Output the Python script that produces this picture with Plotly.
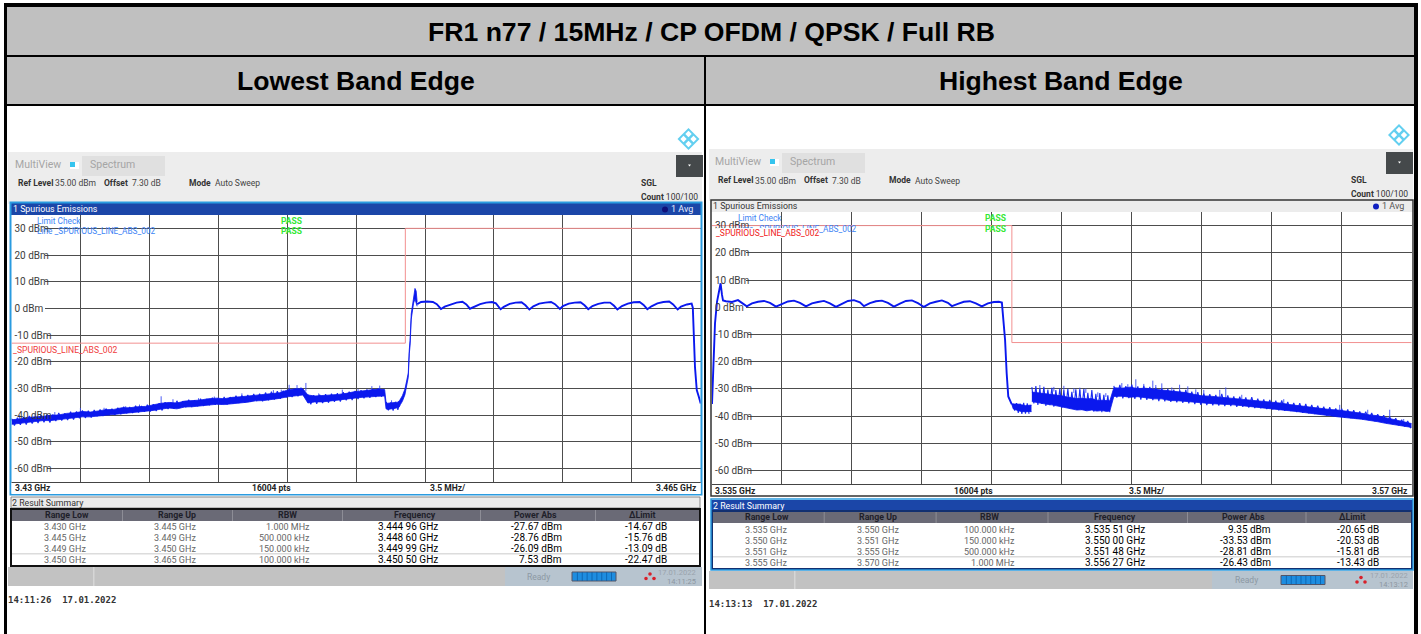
import plotly.graph_objects as go

W, H = 1421, 634
SANS = "Liberation Sans"
UI = "Roboto"
MONO = "DejaVu Sans Mono"

TITLE = "FR1 n77 / 15MHz / CP OFDM / QPSK / Full RB"
LEFT_HEAD = "Lowest Band Edge"
RIGHT_HEAD = "Highest Band Edge"
DB_TICKS = [30, 20, 10, 0, -10, -20, -30, -40, -50, -60]

# ---------- left trace ----------
L_freq_noise = [3.4300,3.4304,3.4308,3.4312,3.4316,3.4320,3.4324,3.4328,3.4332,3.4336,3.4340,3.4344,3.4348,3.4352,3.4356,3.4360,3.4364,3.4368,3.4372,3.4376,3.4380,3.4384,3.4388,3.4392,3.4396,3.4400,3.4404,3.4408,3.4412,3.4416,3.4420,3.4424,3.4428,3.4432,3.4436,3.4440,3.4444,3.4448,
    3.44505,3.4454,3.4458,3.4462,3.4466,3.4470,3.4474,3.4478,3.4482,3.4486,3.44895,
    3.44902,3.4491,3.4493,3.4495,3.4496,3.4497,3.44975,3.44985,3.44998,3.45008,3.45015,3.4502,3.45024,3.4503,3.45035,3.45042,3.45049,3.45055,3.4506]
L_hi_noise = [-41.5,-41.2,-40.6,-40.5,-40.2,-39.8,-39.7,-39.1,-38.9,-38.4,-38.6,-38.2,-37.7,-37.6,-37.0,-37.0,-36.6,-36.5,-35.9,-35.3,-35.0,-35.2,-34.5,-34.3,-34.1,-33.6,-33.4,-33.6,-33.1,-32.9,-32.6,-32.2,-32.0,-31.5,-31.4,-30.4,-29.9,-29.9,
    -32.2,-32.6,-32.4,-32.3,-32.0,-31.6,-31.0,-30.7,-30.4,-30.0,-30.2,
    -34.9,-35.3,-35.2,-35.0,-34.9,-34.4,-33.8,-32.5,-30.0,-27.0,-24.0,-15.5,-12.0,-2.0,0.5,4.5,7.5,6.5,2.5]
L_lo_noise = [-43.6,-43.3,-43.0,-42.7,-42.2,-42.2,-41.8,-41.5,-41.0,-40.8,-40.8,-40.5,-40.1,-40.0,-39.5,-39.3,-39.1,-38.8,-38.4,-37.9,-37.5,-37.8,-37.1,-37.0,-36.7,-36.4,-36.1,-36.2,-35.8,-35.6,-35.3,-34.8,-34.7,-34.4,-33.9,-33.3,-32.9,-32.6,
    -35.6,-35.2,-35.2,-34.8,-34.5,-34.2,-33.8,-33.5,-33.2,-33.1,-33.0,
    -37.8,-38.0,-37.9,-37.6,-37.3,-37.0,-36.2,-35.0,-32.5,-29.0,-26.0,-17.0,-14.0,-4.0,-0.5,2.0,3.5,1.5,0.8]
L_freq_flat = [3.4506,3.4508,3.4511,3.4514,3.4516,3.45181,3.4520,3.4523,3.4526,3.4529,3.4531,3.45328,3.4535,3.4538,3.4541,3.4544,3.4546,3.45484,3.4550,3.4553,3.4556,3.4559,3.4561,3.45630,3.4565,3.4568,3.4571,3.4574,3.4576,3.45785,3.4580,3.4583,3.4586,3.4589,3.4591,3.45929,3.4595,3.4598,3.4601,3.4604,3.4606,3.46077,3.4610,3.4613,3.4616,3.4619,3.4621,3.46229,3.4625,3.4628,3.4631,3.4634,3.4636,3.46383,3.4640,3.4643,3.46454,3.4646,3.46471,3.4648,3.4649,3.4650]
L_level_flat = [1.6,2.4,2.6,2.4,1.6,-0.2,0.7,1.5,2.2,2.5,1.5,-0.1,0.7,1.6,2.2,2.4,1.9,-0.3,0.6,1.7,2.2,2.3,1.2,-0.4,0.8,1.8,2.2,2.4,1.6,-0.2,0.9,1.8,2.2,2.3,1.2,-0.3,0.9,1.7,2.2,2.2,1.0,-0.4,0.9,1.8,2.3,2.4,1.3,-0.3,0.8,1.9,2.4,2.6,1.5,-0.4,0.7,1.5,1.8,0.3,-22.0,-30.6,-33.0,-35.6]
L_spike_freq = [3.4304,3.4312,3.4322,3.4335,3.4347,3.4358,3.4365,3.4376,3.4382,3.4395,3.4403,3.4411,3.4417,3.4429,3.4433,3.4437,3.4441,3.4445,3.44495,3.4456,3.4468,3.4476,3.4483,3.4487,3.4493]
L_spike_top = [-39.9,-39.5,-38.8,-37.3,-37.2,-36.6,-36.0,-32.9,-34.0,-33.6,-33.0,-33.4,-31.8,-32.0,-30.6,-30.4,-28.6,-28.7,-27.9,-31.8,-30.4,-30.2,-29.1,-28.9,-34.4]
L_spike_base = [-42.0,-41.5,-41.0,-39.5,-39.0,-38.4,-38.0,-36.4,-36.2,-35.5,-34.9,-35.0,-34.0,-33.5,-33.0,-32.4,-32.0,-31.5,-31.0,-33.5,-32.4,-31.6,-31.0,-31.0,-36.0]
L_limit_freq = [3.43, 3.45, 3.45, 3.465]
L_limit_db = [-13, -13, 30, 30]

# noise fuzz: (start GHz, step GHz, dBm readings)
L_fuzz_a = [-41.2,-43.9,-40.9,-43.6,-40.7,-43.5,-40.3,-43.1,-40.6,-42.9,
    -39.9,-42.6,-39.7,-42.7,-39.7,-42.2,-39.1,-42.0,-39.3,-41.8,
    -38.7,-41.6,-38.6,-41.1,-38.2,-41.0,-38.3,-40.9,-38.0,-40.4,
    -37.8,-40.3,-37.5,-40.0,-37.6,-39.9,-37.2,-39.6,-36.8,-39.3,
    -36.9,-39.2,-36.4,-39.0,-36.5,-38.7,-36.1,-38.6,-35.9,-38.4,
    -35.5,-38.2,-35.1,-37.7,-35.2,-37.6,-34.6,-37.3,-34.7,-37.0,
    -34.2,-36.9,-34.4,-36.6,-33.8,-36.5,-33.9,-36.3,-33.4,-36.1,
    -33.5,-35.9,-33.1,-36.0,-33.2,-35.6,-32.7,-35.4,-32.6,-35.2,
    -32.4,-35.0,-32.0,-34.7,-31.9,-34.8,-31.5,-34.4,-31.2,-34.1,
    -31.0,-33.8,-30.8,-33.4,-30.1,-33.2,-30.3,-32.9,-29.7,-32.8]
L_fuzz_b = [-32.2,-35.9,-32.5,-35.7,-32.3,-35.4,-32.1,-35.3,-31.9,-35.0,-31.7,-34.9,-31.4,-34.4,-31.2,-34.3,-30.9,-33.9,-30.6,-33.7,-30.3,-33.5,-30.2,-33.2,-29.9,-33.1]
L_fuzz_c = [-35.0,-38.2,-35.2,-38.3,-35.0,-38.0,-34.8]

# ---------- right trace ----------
R_freq_noise = [3.5510,3.55125,3.5515,3.55175,3.5520,3.55225,3.5525,3.55275,3.5530,3.55325,3.5535,3.55375,3.5540,3.55425,3.5545,3.55475,3.5549,
    3.5551,3.5555,3.5559,3.5563,3.5567,3.5571,3.5575,3.5579,3.5583,3.5587,3.5591,3.5595,3.5599,3.5603,3.5607,3.5611,3.5615,3.5619,3.5623,3.5627,3.5631,3.5635,3.5639,3.5643,3.5647,3.5651,3.5655,3.5659,3.5663,3.5667,3.5671,3.5675,3.5679,3.5683,3.5687,3.5691,3.5695,3.5699,3.5700]
R_hi_noise = [-31.0,-31.2,-31.5,-31.8,-32.0,-32.2,-32.4,-32.8,-33.0,-33.4,-33.3,-33.5,-33.4,-34.0,-34.0,-34.0,-34.2,
    -29.4,-29.6,-29.2,-29.7,-29.6,-29.9,-30.2,-30.6,-31.0,-31.2,-31.8,-32.4,-32.5,-32.8,-33.0,-33.4,-33.6,-33.9,-34.3,-34.4,-34.7,-35.1,-35.6,-36.0,-36.4,-36.8,-37.0,-37.4,-37.6,-38.0,-38.3,-38.8,-39.4,-39.7,-40.4,-41.0,-41.7,-42.4,-42.6]
R_lo_noise = [-34.9,-35.3,-35.5,-35.9,-36.1,-36.5,-36.8,-37.1,-37.7,-38.0,-37.9,-38.3,-38.0,-38.4,-38.2,-38.5,-38.4,
    -33.0,-32.9,-33.3,-33.1,-33.6,-33.9,-33.9,-34.5,-34.6,-34.9,-35.2,-35.5,-35.6,-35.8,-35.9,-36.1,-36.4,-36.7,-37.0,-37.2,-37.5,-37.9,-38.2,-38.6,-39.0,-39.3,-39.8,-40.1,-40.5,-40.9,-41.1,-41.4,-41.8,-42.3,-42.9,-43.4,-43.9,-44.3,-44.4]
R_freq_flat = [3.5350,3.53507,3.53515,3.53525,3.53535,3.53543,3.5355,3.53555,3.53570,3.5360,3.5363,3.5365,3.53674,3.5370,3.5373,3.5376,3.5379,3.5382,3.5385,3.5388,3.5391,3.5394,3.5397,3.5400,3.5403,3.5406,3.5409,3.5412,3.5415,3.5418,3.5421,3.5424,3.5426,3.5429,3.5432,3.5435,3.5438,3.5441,3.5444,3.5447,3.5450,3.5453,3.5456,3.5459,3.5462,3.5465,3.5468,3.5470,3.5473,3.5476,3.5479,3.5482,3.5485,3.5488,3.5491,3.54935,3.5495,3.54966,3.54974,3.54982,3.54999]
R_level_flat = [-35.6,-18.0,-6.0,2.0,6.0,8.8,4.5,2.5,2.2,1.9,2.6,1.5,0.3,1.4,2.0,2.3,1.6,0.2,1.3,2.1,2.4,1.6,0.3,1.4,1.9,2.3,1.4,0.1,1.2,2.3,2.6,1.8,0.4,1.5,2.2,2.4,1.6,0.2,1.3,2.3,2.5,1.5,0.1,1.4,2.0,2.5,1.6,0.4,1.2,2.0,2.2,1.4,0.3,1.4,1.9,2.0,1.7,-12.0,-24.3,-32.8,-35.6]
R_freq_floor = [3.54999,3.55007,3.5503,3.55049,3.5507,3.55094,3.55098]
R_hi_floor = [-35.6,-35.6,-35.6,-35.9,-36.2,-36.0,-36.0]
R_lo_floor = [-35.6,-37.4,-38.0,-38.4,-38.4,-38.6,-38.4]
R_spike_freq = [3.5514,3.5521,3.5526,3.5531,3.5534,3.5537,3.5543,3.5547,3.5555,3.5558,3.5562,3.5566,3.55705,3.5572,3.5575,3.5580,3.55839,3.5588,3.5592,3.5596,3.5604,3.5607,3.5615,3.5636,3.5664,3.5678,3.5689,3.5696]
R_spike_top = [-28.6,-29.3,-28.9,-29.8,-29.6,-29.9,-31.3,-31.6,-27.9,-28.3,-26.5,-28.2,-27.0,-28.6,-28.0,-29.5,-28.5,-29.1,-30.2,-30.4,-30.4,-29.5,-32.2,-33.8,-35.9,-37.7,-37.7,-41.1]
R_spike_base = [-31.0,-31.0,-31.0,-31.5,-31.5,-31.5,-33.0,-33.0,-30.0,-30.0,-30.0,-30.0,-30.5,-30.5,-30.5,-31.5,-31.5,-31.5,-32.5,-33.0,-33.5,-33.5,-34.0,-35.5,-38.0,-39.5,-40.5,-42.5]
R_limit_freq = [3.535, 3.55, 3.55, 3.57]
R_limit_db = [30, 30, -13, -13]
R_fuzz_a = [-29.4,-35.4,-29.0,-35.9,-29.9,-35.6,-29.3,-36.3,-30.3,-36.0,-29.6,-36.6,-30.5,-36.2,-29.9,-37.0,-30.6,-36.8,-30.0,-37.2,-31.1,-37.0,-30.2,-37.6,-30.3,-37.8,-30.1,-38.1,-31.5,-37.8,-30.5,-38.4,-31.8,-38.0,-31.6,-38.6,-32.2,-38.2,-32.4,-38.6]
R_fuzz_b = [-28.9,-33.2,-28.6,-33.5,-29.0,-33.4,-28.5,-33.7,-29.1,-34.0,
    -28.9,-34.1,-29.3,-34.2,-29.6,-34.5,-29.8,-34.6,-30.0,-34.8,
    -30.3,-35.0,-30.6,-35.2,-30.4,-35.4,-31.0,-35.6,-31.2,-35.9,
    -31.8,-36.0,-32.0,-36.1,-32.2,-36.2,-31.9,-36.4,-32.4,-36.4,
    -32.8,-36.6,-32.9,-36.6,-33.2,-36.9,-33.1,-37.1,-33.6,-37.2,
    -33.9,-37.5,-34.1,-37.6,-34.4,-37.9,-34.3,-38.1,-34.8,-38.2,
    -35.2,-38.6,-35.3,-38.8,-35.6,-39.0,-35.9,-39.3,-36.2,-39.4,
    -36.6,-39.8,-36.8,-40.0,-37.2,-40.3,-37.3,-40.6,-37.6,-40.8,
    -37.9,-41.0,-38.3,-41.2,-38.4,-41.5,-38.9,-41.9,-39.3,-42.1,
    -39.7,-42.6,-40.3,-43.0,-40.8,-43.4,-41.4,-43.9,-41.8,-44.5]
R_fuzz_c = [-35.4,-38.0,-35.3,-38.9,-35.4,-39.2,-35.2,-39.1,-35.3,-39.2]

L_fuzz = [(3.43, 0.00015, L_fuzz_a), (3.44505, 0.00015, L_fuzz_b), (3.44902, 0.00012, L_fuzz_c)]
R_fuzz = [(3.551, 0.0001, R_fuzz_a), (3.5551, 0.00015, R_fuzz_b), (3.55005, 0.00009, R_fuzz_c)]

# ---------- result summaries ----------
TABLE_HEAD = ["Range Low", "Range Up", "RBW", "Frequency", "Power Abs", "\u0394Limit"]
L_rows = [
    ["3.430 GHz", "3.445 GHz", "1.000 MHz", "3.444 96 GHz", "-27.67 dBm", "-14.67 dB"],
    ["3.445 GHz", "3.449 GHz", "500.000 kHz", "3.448 60 GHz", "-28.76 dBm", "-15.76 dB"],
    ["3.449 GHz", "3.450 GHz", "150.000 kHz", "3.449 99 GHz", "-26.09 dBm", "-13.09 dB"],
    ["3.450 GHz", "3.465 GHz", "100.000 kHz", "3.450 50 GHz", "7.53 dBm", "-22.47 dB"],
]
R_rows = [
    ["3.535 GHz", "3.550 GHz", "100.000 kHz", "3.535 51 GHz", "9.35 dBm", "-20.65 dB"],
    ["3.550 GHz", "3.551 GHz", "150.000 kHz", "3.550 00 GHz", "-33.53 dBm", "-20.53 dB"],
    ["3.551 GHz", "3.555 GHz", "500.000 kHz", "3.551 48 GHz", "-28.81 dBm", "-15.81 dB"],
    ["3.555 GHz", "3.570 GHz", "1.000 MHz", "3.556 27 GHz", "-26.43 dBm", "-13.43 dB"],
]

shapes, notes = [], []


def px(x):
    return x / W


def py(y):
    return 1 - y / H


def rect(x0, y0, x1, y1, fill=None, line=None, lw=1, layer="below"):
    shapes.append(dict(type="rect", xref="paper", yref="paper", x0=px(x0), x1=px(x1), y0=py(y0), y1=py(y1),
                       fillcolor=fill if fill else "rgba(0,0,0,0)",
                       line=dict(color=line if line else "rgba(0,0,0,0)", width=lw if line else 0), layer=layer))


def poly(points, fill=None, line=None, lw=1):
    d = "M " + " L ".join(f"{px(a):.5f},{py(b):.5f}" for a, b in points) + " Z"
    shapes.append(dict(type="path", xref="paper", yref="paper", path=d, fillcolor=fill if fill else "rgba(0,0,0,0)",
                       line=dict(color=line if line else "rgba(0,0,0,0)", width=lw if line else 0), layer="above"))


def dot(x, y, r, fill):
    shapes.append(dict(type="circle", xref="paper", yref="paper", x0=px(x - r), x1=px(x + r), y0=py(y + r), y1=py(y - r),
                       fillcolor=fill, line=dict(width=0), layer="above"))


def text(x, y, s, size, color="#333", anchor="left", family=UI, bg=None):
    n = dict(xref="paper", yref="paper", x=px(x), y=py(y), text=s, showarrow=False, xanchor=anchor, yanchor="middle",
             font=dict(size=size, color=color, family=family), borderpad=0, borderwidth=0)
    if bg:
        n["bgcolor"] = bg
    notes.append(n)


# ---------- page frame ----------
rect(5, 5, 1416, 104, fill="#c0c0c0")
rect(4, 3, 1418, 7, fill="#000")
rect(4, 55, 1418, 57, fill="#000")
rect(4, 104, 1418, 106, fill="#000")
rect(4, 3, 7, 634, fill="#000")
rect(1414, 3, 1418, 634, fill="#000")
rect(704, 55, 706, 634, fill="#000")
text(711, 31.5, f"<b>{TITLE}</b>", 26.6, "#000", "center", SANS)
text(355.5, 81, f"<b>{LEFT_HEAD}</b>", 26.6, "#000", "center", SANS)
text(1060.5, 81, f"<b>{RIGHT_HEAD}</b>", 26.6, "#000", "center", SANS)


def logo(cx, cy):
    r = 11
    poly([(cx, cy - r), (cx + r, cy), (cx, cy + r), (cx - r, cy)], fill="#62cff0")
    s = 3.2
    for ox, oy in [(0, -5), (5, 0), (0, 5), (-5, 0)]:
        poly([(cx + ox, cy + oy - s), (cx + ox + s, cy + oy), (cx + ox, cy + oy + s), (cx + ox - s, cy + oy)], fill="#ffffff")


def panel(o):
    gl, gr = o["gl"], o["gr"]
    dy = o["dy"]
    rect(gl, 152 + dy, gr, 204 + dy, fill="#ededed")
    text(o["x"] + 15, 165 + dy, "MultiView", 10.5, "#a5a5a5")
    rect(o["x"] + 70, 162 + dy, o["x"] + 79, 169 + dy, fill="#ffffff")
    rect(o["x"] + 70, 162 + dy, o["x"] + 75, 167 + dy, fill="#35c4ee")
    rect(o["x"] + 82, 156 + dy, o["x"] + 165, 176 + dy, fill="#e0e0e0")
    text(o["x"] + 90, 165 + dy, "Spectrum", 10.5, "#a5a5a5")
    text(o["x"] + 18, 183 + dy, "<b>Ref Level</b>", 8.5, "#333")
    text(o["x"] + 55, 183.5 + dy, "35.00 dBm", 8.5, "#444")
    text(o["x"] + 104, 183 + dy, "<b>Offset</b>", 8.5, "#333")
    text(o["x"] + 132, 183.5 + dy, "7.30 dB", 8.5, "#444")
    text(o["x"] + 189, 183 + dy, "<b>Mode</b>", 8.5, "#333")
    text(o["x"] + 215, 183.5 + dy, "Auto Sweep", 8.5, "#444")
    text(o["sgl"], 183 + dy, "<b>SGL</b>", 8.5, "#333")
    text(o["sgl"], 197 + dy, "<b>Count</b> 100/100", 8.5, "#333")
    rect(o["bx"], 155 + dy, o["bx"] + 27, 177 + dy, fill="#45494b")
    poly([(o["bx"] + 12, 164.5 + dy), (o["bx"] + 15, 164.5 + dy), (o["bx"] + 13.5, 166.5 + dy)], fill="#ffffff")
    logo(o["lx"], o["ly"])


panel(dict(x=0, gl=8, gr=702, dy=0, sgl=641, bx=676, lx=688.5, ly=139))
panel(dict(x=700, gl=709, gr=1413, dy=-3, sgl=1351, bx=1386, lx=1399, ly=135))

# ---------- left graph chrome ----------
rect(11, 215, 701, 494, fill="#ffffff")
rect(11, 203, 701, 215, fill="#1b46a8")
rect(10.5, 202.5, 701.5, 494.5, line="#2a9be0", lw=2, layer="above")
text(12.5, 209.5, "1 Spurious Emissions", 8.8, "#ffffff")
dot(665, 209.5, 3, "#10107a")
text(671, 209.5, "1 Avg", 9, "#e8eeff")
rect(11.5, 482, 700.7, 494, fill="#ffffff", layer="above")
rect(11.5, 482, 700.7, 483, fill="#444", layer="above")
text(15, 488, "<b>3.43 GHz</b>", 8.5, "#222")
text(271, 488, "<b>16004 pts</b>", 8.5, "#222", "center")
text(448, 488, "<b>3.5 MHz/</b>", 8.5, "#222", "center")
text(697, 488, "<b>3.465 GHz</b>", 8.5, "#222", "right")
text(37, 220.5, "Limit Check", 8.3, "#3d84f5")
text(37, 231.5, "Line _SPURIOUS_LINE_ABS_002", 8.3, "#3d84f5")
text(281, 220.5, "<b>PASS</b>", 8.5, "#35e835")
text(281, 231.5, "<b>PASS</b>", 8.5, "#35e835")
text(12.5, 350, "_SPURIOUS_LINE_ABS_002", 8.6, "#f03c3c")

# ---------- right graph chrome ----------
rect(711, 212, 1413, 496, fill="#ffffff")
rect(711, 200, 1413, 212, fill="#ececec")
rect(711, 200, 1413, 496, line="#333333", lw=1.5, layer="above")
text(712.5, 206.5, "1 Spurious Emissions", 8.8, "#333")
dot(1376, 206.5, 3, "#1020c0")
text(1382, 206.5, "1 Avg", 9, "#555")
rect(712, 484, 1411.7, 495, fill="#ffffff", layer="above")
rect(712, 484, 1411.7, 485, fill="#444", layer="above")
text(715, 490.5, "<b>3.535 GHz</b>", 8.5, "#222")
text(973.5, 490.5, "<b>16004 pts</b>", 8.5, "#222", "center")
text(1147, 490.5, "<b>3.5 MHz/</b>", 8.5, "#222", "center")
text(1408, 490.5, "<b>3.57 GHz</b>", 8.5, "#222", "right")
text(738, 218, "Limit Check", 8.3, "#3d84f5")
text(738, 229.5, "Line _SPURIOUS_LINE_ABS_002", 8.3, "#3d84f5")
text(985, 218, "<b>PASS</b>", 8.5, "#35e835")
text(985, 229.5, "<b>PASS</b>", 8.5, "#35e835")
text(716, 232.8, "_SPURIOUS_LINE_ABS_002", 8.5, "#f02020", bg="rgba(255,255,255,0.92)")


def table(rows, o):
    y = o["y"]
    if o["blue"]:
        rect(o["l"] - 1, y[0], o["r"] + 1, y[0] + 11, fill="#1b46a8")
        text(o["l"] + 1, y[0] + 5.5, "2 Result Summary", 8.8, "#ffffff")
    else:
        rect(o["l"], y[0], o["r"], y[0] + 11, fill="#ececec", line="#888888")
        text(o["l"] + 1, y[0] + 5.5, "2 Result Summary", 8.8, "#333")
    rect(o["l"], y[1], o["r"], y[2], fill="#6a6a76")
    for d in o["div"]:
        rect(d, y[1], d + 1, y[2], fill="#8d8d96")
    for h, c in zip(TABLE_HEAD, o["hc"]):
        text(c, (y[1] + y[2]) / 2, f"<b>{h}</b>", 8.8, "#1f1f2a", "center")
    rect(o["l"], y[2], o["r"], y[3], fill="#ffffff")
    rect(o["l"], o["sep"], o["r"], o["sep"] + 1.5, fill="#dcdcdc")
    for ry, row in zip(o["rows"], rows):
        for j, (c, v) in enumerate(zip(o["rc"], row)):
            if j < 3:
                text(c, ry, v, 9, "#666", "right")
            else:
                text(c, ry - 0.5, v, 10, "#000", "right")
    rect(o["l"], y[1] - 0.5, o["r"], y[3], line="#111111" if not o["blue"] else "#123070", lw=2, layer="above")
    if o["blue"]:
        rect(o["l"] - 1, y[0] - 1, o["r"] + 1, y[3] + 1, line="#2a9be0", lw=1.5, layer="above")


table(L_rows, dict(blue=False, l=11, r=700, y=[497, 509.5, 521, 566], sep=553, div=[122, 232, 342, 480, 595],
                   hc=[67, 177, 287, 415, 535, 642], rc=[86, 195.5, 309.5, 437.6, 562, 667], rows=[526.5, 537.5, 548.5, 559.5]))
table(R_rows, dict(blue=True, l=712, r=1412, y=[500, 511.5, 523, 569], sep=556, div=[823.7, 935.6, 1047.5, 1187, 1305.5],
                   hc=[767, 878, 990, 1115, 1243, 1352], rc=[787, 898.6, 1014.6, 1144.7, 1271, 1378.5], rows=[529.5, 540.5, 551.5, 562.5]))


def toolbar(o):
    t, b = o["t"], o["b"]
    rect(o["l"], t, o["m"], b, fill="#c2c2c2")
    rect(o["d"], t, o["d"] + 1.5, b, fill="#d6d6d6")
    rect(o["m"], t, o["r"], b, fill="#b7c4cf")
    text(o["rx"], o["c"], "Ready", 8.5, "#8c98a3", "center")
    rect(o["px"], o["c"] - 4.5, o["px"] + 44, o["c"] + 4.5, fill="#1e8de0", line="#556", lw=1)
    for k in range(1, 9):
        rect(o["px"] + k * 4.9, o["c"] - 4.5, o["px"] + k * 4.9 + 0.8, o["c"] + 4.5, fill="#0b5fa8")
    q = o["qx"]
    dot(q, o["c"] - 2.5, 1.8, "#d8202a")
    dot(q - 4, o["c"] + 2, 1.8, "#d8202a")
    dot(q + 4, o["c"] + 2, 1.8, "#d8202a")
    text(o["dx"], o["c"] - 4.5, "17.01.2022", 7.5, "#9aa3ac", "right")
    text(o["dx"], o["c"] + 4.5, o["time"], 7.5, "#8c96a0", "right")


toolbar(dict(l=8, m=505, r=702, d=93, t=567, b=586, c=576.5, rx=538, px=572, qx=650, dx=696, time="14:11:25"))
toolbar(dict(l=709, m=1212, r=1413, d=794, t=571, b=589, c=580, rx=1246, px=1281, qx=1361, dx=1408, time="14:13:12"))
text(8, 599.5, "<b>14:11:26\u00a0\u00a017.01.2022</b>", 9, "#333", family=MONO)
text(709, 603.5, "<b>14:13:13\u00a0\u00a017.01.2022</b>", 9, "#333", family=MONO)

# white backing behind the dB labels, above the grid and below the trace
for xr, yr, start in [("x", "y", 3.43), ("x2", "y2", 3.535)]:
    for v in DB_TICKS:
        shapes.append(dict(type="rect", xref=xr, yref=yr, x0=start, x1=start + (0.0018 if v < 0 else 0.0017),
                           y0=v - 1.3, y1=v + 1.3, fillcolor="#ffffff", line=dict(width=0), layer="between"))

# ---------- figure ----------
fig = go.Figure()
BLUE = "#0a18ee"
FUZZ = "#1a2cf0"


def add_spectrum(suffix, limit_f, limit_d, nf, hi, lo, flat_f, flat, spike_f, spike_t, spike_b, fuzz, extra=None):
    xa, ya = "x" + suffix, "y" + suffix
    fig.add_trace(go.Scatter(x=limit_f, y=limit_d, xaxis=xa, yaxis=ya, mode="lines", line=dict(color="#f29090", width=1), hoverinfo="skip"))
    sx, sy = [], []
    for f, t, b in zip(spike_f, spike_t, spike_b):
        sx += [f, f, None]
        sy += [b, t, None]
    fig.add_trace(go.Scatter(x=sx, y=sy, xaxis=xa, yaxis=ya, mode="lines", line=dict(color="#3a4cf5", width=0.9), hoverinfo="skip"))
    for start, step, vals in fuzz:
        fig.add_trace(go.Scatter(x=[start + i * step for i in range(len(vals))], y=vals, xaxis=xa, yaxis=ya, mode="lines",
                                 line=dict(color=FUZZ, width=1.1), hoverinfo="skip"))
    core_hi = [h - 0.2 if h - l > 1.6 and h < -20 else h for h, l in zip(hi, lo)]
    core_lo = [l + 0.2 if h - l > 1.6 and h < -20 else l for h, l in zip(hi, lo)]
    fig.add_trace(go.Scatter(x=nf, y=core_lo, xaxis=xa, yaxis=ya, mode="lines", line=dict(color=BLUE, width=0.8), hoverinfo="skip"))
    fig.add_trace(go.Scatter(x=nf, y=core_hi, xaxis=xa, yaxis=ya, mode="lines", line=dict(color=BLUE, width=0.8), fill="tonexty", fillcolor=BLUE, hoverinfo="skip"))
    fig.add_trace(go.Scatter(x=flat_f, y=flat, xaxis=xa, yaxis=ya, mode="lines", line=dict(color=BLUE, width=1.9), hoverinfo="skip"))
    if extra:
        fig.add_trace(go.Scatter(x=extra[0], y=extra[2], xaxis=xa, yaxis=ya, mode="lines", line=dict(color=BLUE, width=0.8), hoverinfo="skip"))
        fig.add_trace(go.Scatter(x=extra[0], y=extra[1], xaxis=xa, yaxis=ya, mode="lines", line=dict(color=BLUE, width=0.8), fill="tonexty", fillcolor=BLUE, hoverinfo="skip"))


add_spectrum("", L_limit_freq, L_limit_db, L_freq_noise, L_hi_noise, L_lo_noise, L_freq_flat, L_level_flat,
             L_spike_freq, L_spike_top, L_spike_base, L_fuzz)
add_spectrum("2", R_limit_freq, R_limit_db, R_freq_noise, R_hi_noise, R_lo_noise, R_freq_flat, R_level_flat,
             R_spike_freq, R_spike_top, R_spike_base, R_fuzz, extra=(R_freq_floor, R_hi_floor, R_lo_floor))

grid = dict(showgrid=True, gridcolor="#4d4d4d", gridwidth=1, zeroline=False, showline=False, ticks="", fixedrange=True)
ylab = dict(tickvals=DB_TICKS, ticktext=[f"{v} dBm" for v in DB_TICKS], ticklabelposition="inside",
            tickfont=dict(family=UI, size=10, color="#3c3c3c"), range=[-65, 35])
fig.update_layout(
    width=W, height=H, autosize=False, margin=dict(l=0, r=0, t=0, b=0), showlegend=False,
    paper_bgcolor="#ffffff", plot_bgcolor="rgba(0,0,0,0)", shapes=shapes, annotations=notes,
    xaxis=dict(domain=[px(11.5), px(700.7)], range=[3.43, 3.465], anchor="y", tick0=3.43, dtick=0.0035, showticklabels=False, **grid),
    yaxis=dict(domain=[py(482), py(215)], anchor="x", **ylab, **grid),
    xaxis2=dict(domain=[px(712), px(1411.7)], range=[3.535, 3.57], anchor="y2", tick0=3.535, dtick=0.0035, showticklabels=False, **grid),
    yaxis2=dict(domain=[py(484), py(212)], anchor="x2", **ylab, **grid),
)
fig.write_html("out.html", config=dict(displayModeBar=False), post_script="document.body.style.margin='0';")
